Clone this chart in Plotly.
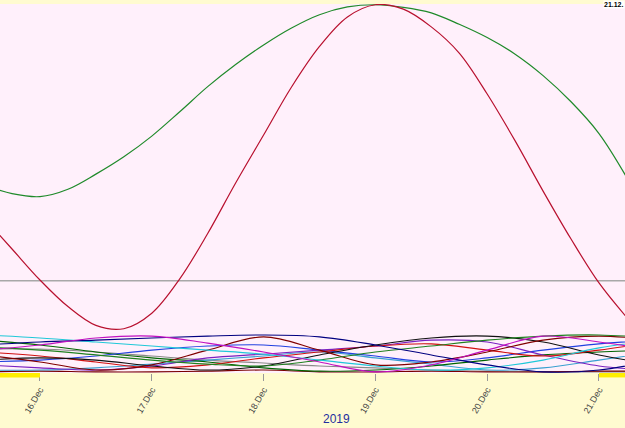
import plotly.graph_objects as go
import pandas as pd

# 6-hourly times for the two main curves
t6 = pd.date_range("2019-12-15 12:00", "2019-12-21 06:00", freq="6h")
green_vals = [50.9, 48.6, 47.8, 49.8, 53.9, 58.6, 64.2, 70.8, 77.6, 83.6, 88.9, 93.5,
              97.1, 99.2, 99.8, 99.1, 97.6, 94.5, 90.9, 86.4, 80.6, 73.5, 64.9, 52.9]
red_vals = [42.0, 33.6, 25.2, 18.0, 12.9, 12.0, 16.2, 25.5, 37.8, 51.5, 64.5, 77.5,
            88.5, 96.5, 99.8, 98.6, 93.8, 86.7, 75.6, 62.9, 49.3, 36.3, 24.4, 15.0]

# 12-hourly times for the tangle of lines near the bottom
t12 = pd.date_range("2019-12-15 12:00", "2019-12-21 12:00", freq="12h")
magenta = [6.2, 7.6, 9.5, 10.0, 8.1, 5.7, 3.0, 0.3, 2.2, 6.2, 10.0, 8.4, 6.2]
navy = [7.6, 8.4, 8.9, 9.5, 10.0, 10.3, 9.8, 7.6, 4.9, 2.2, 0.3, 0.8, 3.5]
cyan = [10.3, 9.5, 8.4, 7.3, 6.2, 5.1, 3.5, 1.9, 0.8, 1.4, 3.5, 6.8, 8.9]
green2 = [7.0, 6.2, 4.9, 3.5, 2.4, 1.9, 3.5, 5.7, 7.3, 8.9, 10.0, 10.3, 9.5]
darkred = [4.9, 3.0, 0.8, 2.2, 6.2, 9.8, 6.2, 2.2, 3.0, 5.7, 8.9, 10.0, 8.9]
black = [3.5, 4.1, 3.5, 1.9, 0.8, 1.9, 4.9, 7.6, 9.5, 10.0, 8.4, 4.9, 2.2]
red2 = [5.7, 4.6, 3.0, 1.4, 2.2, 4.1, 5.7, 7.3, 7.9, 6.2, 4.6, 6.2, 8.4]
purple = [2.2, 1.4, 0.8, 1.9, 4.1, 5.1, 6.2, 7.3, 8.9, 8.4, 4.9, 1.9, 0.8]
blue = [3.0, 3.5, 4.6, 6.2, 7.3, 7.6, 6.2, 4.6, 3.0, 4.1, 6.2, 7.9, 8.9]
dkgreen = [8.9, 7.6, 5.7, 4.1, 3.0, 1.4, 0.5, 0.8, 1.9, 3.5, 4.9, 5.7, 6.2]
gray = [6.5, 6.5, 5.7, 4.6, 3.5, 2.7, 1.9, 1.4, 0.8, 0.5, 0.3, 0.3, 0.3]
teal = [0.8, 0.8, 1.4, 2.4, 3.5, 4.6, 5.7, 4.1, 2.4, 0.8, 1.4, 3.5, 5.7]
maroon = [0.3, 0.5, 0.3, 0.3, 0.5, 0.8, 0.3, 0.3, 0.5, 0.3, 0.3, 0.5, 0.5]

ref_level = 25.0
x_start, x_end = "2019-12-15 15:25", "2019-12-21 05:35"
tick_vals = pd.date_range("2019-12-16", "2019-12-21", freq="D")

fig = go.Figure()

bottom = [
    (gray, "#8a8a8a"), (maroon, "#7a0000"), (teal, "#3aa0d0"), (dkgreen, "#006400"),
    (blue, "#2040e0"), (purple, "#7a20c0"), (red2, "#d01010"), (black, "#101010"),
    (darkred, "#800000"), (green2, "#208020"), (cyan, "#20c8d8"), (navy, "#000080"),
    (magenta, "#c010c0"),
]
for vals, col in bottom:
    fig.add_trace(go.Scatter(x=t12, y=vals, mode="lines",
                             line=dict(color=col, width=1.1, shape="spline"),
                             showlegend=False, hoverinfo="skip"))

fig.add_trace(go.Scatter(x=t6, y=green_vals, mode="lines",
                         line=dict(color="#1f8a2a", width=1.2, shape="spline"),
                         showlegend=False))
fig.add_trace(go.Scatter(x=t6, y=red_vals, mode="lines",
                         line=dict(color="#b8102e", width=1.2, shape="spline"),
                         showlegend=False))

fig.add_hline(y=ref_level, line=dict(color="#a8a8a8", width=1.5), layer="below")

# bright yellow markers outside 16..21 Dec
fig.add_shape(type="rect", xref="x", yref="paper", x0=x_start, x1=tick_vals[0],
              y0=-0.012, y1=0, fillcolor="#ffee00", line_width=0)
fig.add_shape(type="rect", xref="x", yref="paper", x0=tick_vals[-1], x1=x_end,
              y0=-0.012, y1=0, fillcolor="#ffee00", line_width=0)

fig.add_annotation(text="<b>21.12.</b>", xref="paper", yref="paper", x=1, y=1,
                   xanchor="right", yanchor="middle", showarrow=False,
                   font=dict(size=7, color="black", family="Arial"),
                   bgcolor="white", borderpad=0)
fig.add_annotation(text="2019", xref="paper", yref="paper", x=0.539, y=-0.124,
                   xanchor="center", yanchor="middle", showarrow=False,
                   font=dict(size=12, color="#1f2f9f", family="Arial"))

fig.update_layout(
    width=625, height=428,
    margin=dict(l=0, r=0, t=4, b=55),
    paper_bgcolor="#fffbd0",
    plot_bgcolor="#fff0fb",
    xaxis=dict(range=[x_start, x_end], tickvals=tick_vals, tickformat="%d.%b",
               tickangle=-60, ticks="outside", ticklen=7, tickcolor="#999999",
               tickfont=dict(size=9, color="#444444", family="Arial"),
               showgrid=False, zeroline=False, showline=False),
    yaxis=dict(range=[0, 100], visible=False, showgrid=False, zeroline=False),
)

fig.write_html("out.html")
